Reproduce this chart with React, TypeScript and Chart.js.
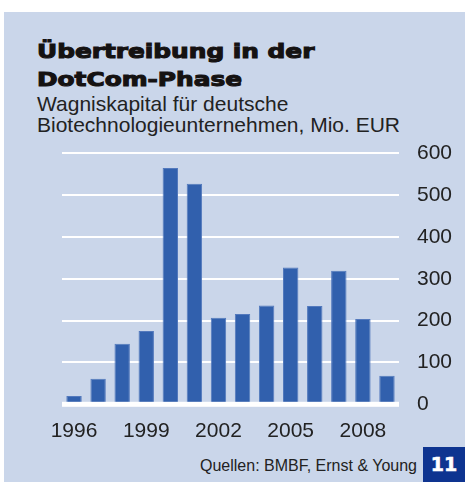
import React, { useEffect, useRef } from "react";
import { Chart, registerables } from "chart.js";

Chart.register(...registerables);

const years = ["1996", "1997", "1998", "1999", "2000", "2001", "2002", "2003", "2004", "2005", "2006", "2007", "2008", "2009"];
const capital = [20, 61, 145, 175, 565, 527, 207, 216, 236, 327, 235, 319, 204, 68];
const xTickYears = ["1996", "1999", "2002", "2005", "2008"];
const yTicks = [0, 100, 200, 300, 400, 500, 600];

const titleLines = ["Übertreibung in der", "DotCom-Phase"];
const subtitleLines = ["Wagniskapital für deutsche", "Biotechnologieunternehmen, Mio. EUR"];
const sourceText = "Quellen: BMBF, Ernst & Young";
const pageNumber = "11";

const PANEL = "#cad6ea";
const BAR = "#3160ad";

const zeroLinePlugin = {
  id: "zeroLine",
  afterDatasetsDraw(chart: any) {
    const { ctx, chartArea, scales } = chart;
    const y = scales.y.getPixelForValue(0);
    ctx.save();
    ctx.fillStyle = "#ffffff";
    ctx.fillRect(chartArea.left, y - 2.5, chartArea.right - chartArea.left, 5);
    ctx.restore();
  },
};

export default function App() {
  const canvasRef = useRef<HTMLCanvasElement | null>(null);

  useEffect(() => {
    if (!canvasRef.current) return;
    const chart = new Chart(canvasRef.current, {
      type: "bar",
      data: {
        labels: years,
        datasets: [
          {
            data: capital,
            backgroundColor: BAR,
            borderColor: "#5379bd",
            borderWidth: 1,
            barPercentage: 0.64,
            categoryPercentage: 1,
          },
        ],
      },
      plugins: [zeroLinePlugin],
      options: {
        responsive: false,
        animation: false,
        devicePixelRatio: 1,
        layout: { padding: { left: 62, top: 23.3, right: 0, bottom: 0 } },
        plugins: {
          legend: { display: false },
          tooltip: { enabled: false },
          title: { display: false },
        },
        scales: {
          x: {
            grid: { display: false, drawTicks: false },
            border: { display: false },
            afterFit: (s: any) => {
              s.height = 45.7;
              s.paddingLeft = 0;
              s.paddingRight = 0;
            },
            ticks: {
              autoSkip: false,
              maxRotation: 0,
              minRotation: 0,
              padding: 14,
              color: "#222222",
              font: { family: "'Liberation Sans', Arial, sans-serif", size: 21 },
              callback: function (this: any, _v: any, i: number) {
                const lab = years[i];
                return xTickYears.includes(lab) ? lab : "";
              },
            },
          },
          y: {
            position: "right",
            min: 0,
            max: 600,
            afterFit: (s: any) => {
              s.width = 68;
              s.paddingTop = 0;
              s.paddingBottom = 0;
            },
            afterBuildTicks: (s: any) => {
              s.ticks = yTicks.map((v) => ({ value: v }));
            },
            grid: {
              drawTicks: false,
              color: "#ffffff",
              lineWidth: 2,
            },
            border: { display: false },
            ticks: {
              padding: 18,
              crossAlign: "near",
              color: "#222222",
              font: { family: "'Liberation Sans', Arial, sans-serif", size: 21 },
            },
          },
        },
      },
    });
    return () => chart.destroy();
  }, []);

  return (
    <div
      style={{
        position: "absolute",
        left: 0,
        top: 0,
        width: 467,
        height: 482,
        background: "#ffffff",
        overflow: "hidden",
      }}
    >
      <div
        style={{
          position: "absolute",
          left: 4,
          top: 12,
          width: 461,
          height: 470,
          background: PANEL,
        }}
      />
      <div
        style={{
          position: "absolute",
          left: 37,
          top: 38,
          fontFamily: "'DejaVu Sans', sans-serif",
          fontWeight: 700,
          fontSize: 20,
          lineHeight: "27.5px",
          color: "#151212",
          transform: "scaleX(1.24)",
          transformOrigin: "left top",
          whiteSpace: "nowrap",
          WebkitTextStroke: "1.1px #151212",
        }}
      >
        {titleLines.map((t) => (
          <div key={t}>{t}</div>
        ))}
      </div>
      <div
        style={{
          position: "absolute",
          left: 37,
          top: 94,
          fontFamily: "'Liberation Sans', Arial, sans-serif",
          fontSize: 21,
          lineHeight: "20.5px",
          color: "#222222",
          whiteSpace: "nowrap",
        }}
      >
        {subtitleLines.map((t) => (
          <div key={t}>{t}</div>
        ))}
      </div>
      <canvas
        ref={canvasRef}
        width={467}
        height={320}
        style={{ position: "absolute", left: 0, top: 130, width: 467, height: 320 }}
      />
      <div
        style={{
          position: "absolute",
          right: 467 - 417,
          top: 456,
          fontFamily: "'Liberation Sans', Arial, sans-serif",
          fontSize: 16,
          lineHeight: "20px",
          color: "#222222",
          whiteSpace: "nowrap",
        }}
      >
        {sourceText}
      </div>
      <div
        style={{
          position: "absolute",
          left: 423,
          top: 447,
          width: 42,
          height: 35,
          background: "#0e3490",
          color: "#ffffff",
          fontFamily: "'DejaVu Sans', sans-serif",
          fontWeight: 700,
          fontSize: 19,
          lineHeight: "35px",
          textAlign: "center",
          WebkitTextStroke: "0.6px #ffffff",
        }}
      >
        {pageNumber}
      </div>
    </div>
  );
}
